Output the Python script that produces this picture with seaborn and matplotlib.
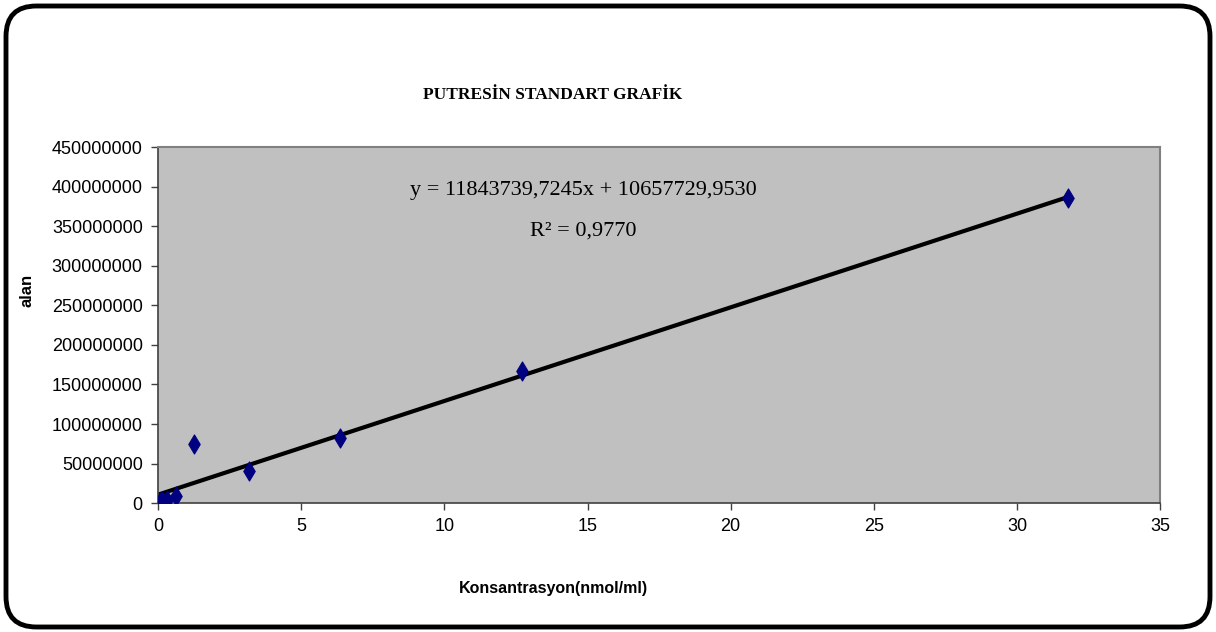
import numpy as np
import pandas as pd
import seaborn as sns
import matplotlib.pyplot as plt
from matplotlib.patches import FancyBboxPatch

# standard curve points
konsantrasyon = [0.064, 0.127, 0.318, 0.636, 1.272, 3.18, 6.36, 12.72, 31.8]
alan = [1600000, 2900000, 3800000, 8800000, 74600000, 40400000, 82000000, 167000000, 385500000]

# trend line as printed on the chart
egim = 11843739.7245
kesisim = 10657729.9530
r2 = 0.9770

x_ticks = [0, 5, 10, 15, 20, 25, 30, 35]
y_ticks = list(range(0, 450000001, 50000000))

df = pd.DataFrame({"x": konsantrasyon, "y": alan})
xs = np.array([0, max(konsantrasyon)])
trend = pd.DataFrame({"x": xs, "y": egim * xs + kesisim})

sns.set_style("white")
plt.rcParams["font.family"] = ["Liberation Sans", "DejaVu Sans"]
plt.rcParams["text.color"] = "black"
plt.rcParams["xtick.color"] = "black"
plt.rcParams["ytick.color"] = "black"

fig = plt.figure(figsize=(12.16, 6.32), dpi=100)
ax = fig.add_axes([0.130, 0.204, 0.824, 0.563])
ax.set_facecolor("#c0c0c0")

sns.lineplot(data=trend, x="x", y="y", ax=ax, color="black", linewidth=3, zorder=2)
sns.scatterplot(data=df, x="x", y="y", ax=ax, marker="d", s=95, color="#000080",
                edgecolor="#000080", zorder=3)

ax.set_xlim(0, 35)
ax.set_ylim(0, 450000000)
ax.set_xticks(x_ticks)
ax.set_yticks(y_ticks)
ax.set_xticklabels([str(t) for t in x_ticks])
ax.set_yticklabels([str(t) for t in y_ticks])
ax.tick_params(axis="both", labelsize=13, direction="out", length=5, width=1,
               color="#404040", labelcolor="black", pad=6, bottom=True, left=True)

for side in ["top", "right"]:
    ax.spines[side].set_color("#808080")
    ax.spines[side].set_linewidth(1.5)
for side in ["left", "bottom"]:
    ax.spines[side].set_color("#404040")
    ax.spines[side].set_linewidth(1.2)

ax.set_xlabel("")
ax.set_ylabel("")
fig.text(553 / 1216, 1 - 588 / 632, "Konsantrasyon(nmol/ml)", ha="center", va="center",
         fontsize=11.5, fontweight="bold")
fig.text(27 / 1216, 1 - 290 / 632, "alan", ha="center", va="center", rotation=90,
         fontsize=12, fontweight="bold")

fig.text(553 / 1216, 1 - 95 / 632, "PUTRESİN STANDART GRAFİK", ha="center", va="center",
         fontsize=12.5, fontweight="bold", family="Liberation Serif")

ax.text(583 / 1216, 1 - 190 / 632,
        "y = 11843739,7245x + 10657729,9530",
        transform=fig.transFigure, ha="center", va="center", fontsize=16,
        family="Liberation Serif")
ax.text(583 / 1216, 1 - 231 / 632, "R² = " + f"{r2:.4f}".replace(".", ","),
        transform=fig.transFigure, ha="center", va="center", fontsize=16,
        family="Liberation Serif")

border = FancyBboxPatch((6 / 1216, 5 / 632), 1204 / 1216, 621 / 632,
                        boxstyle="round,pad=0,rounding_size=0.025",
                        transform=fig.transFigure, facecolor="none",
                        edgecolor="black", linewidth=3.5, mutation_aspect=1216 / 632)
fig.patches.append(border)

fig.savefig("out.png", dpi=100)
